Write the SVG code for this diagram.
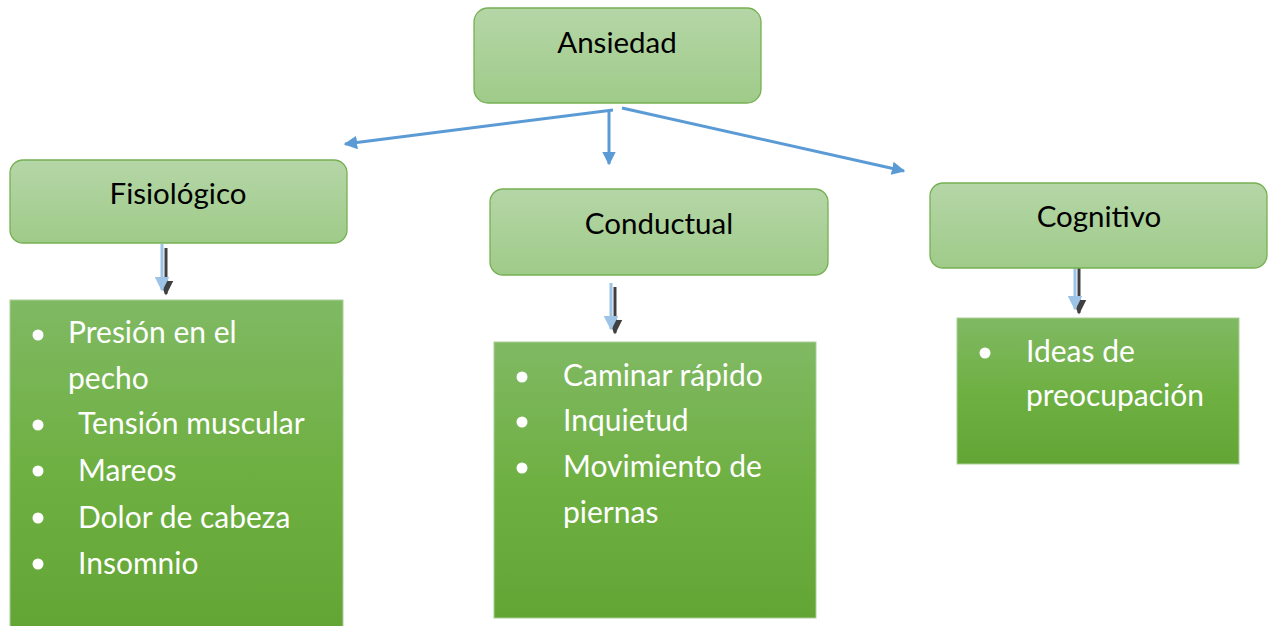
<svg xmlns="http://www.w3.org/2000/svg" width="1269" height="626" viewBox="0 0 1269 626">
<defs>
<linearGradient id="hdr" x1="0" y1="0" x2="0" y2="1">
<stop offset="0" stop-color="#b5d6a7"/>
<stop offset="1" stop-color="#9fcb89"/>
</linearGradient>
<linearGradient id="lst" x1="0" y1="0" x2="0" y2="1">
<stop offset="0" stop-color="#80b963"/>
<stop offset="0.5" stop-color="#6fb043"/>
<stop offset="1" stop-color="#63a535"/>
</linearGradient>
<marker id="ah" viewBox="0 0 10 10" refX="9" refY="5" markerWidth="4.5" markerHeight="4.5" orient="auto" markerUnits="strokeWidth">
<path d="M0,0 L10,5 L0,10 z" fill="#5b9bd5"/>
</marker>
<marker id="ahl" viewBox="0 0 10 10" refX="9" refY="5" markerWidth="5" markerHeight="5" orient="auto" markerUnits="strokeWidth">
<path d="M0,0 L10,5 L0,10 z" fill="#9dc3e6"/>
</marker>
<marker id="ahd" viewBox="0 0 10 10" refX="9" refY="5" markerWidth="5" markerHeight="5" orient="auto" markerUnits="strokeWidth">
<path d="M0,0 L10,5 L0,10 z" fill="#404040"/>
</marker>
</defs>
<style>
.hdr{fill:url(#hdr);stroke:#76b053;stroke-width:1.3}
.lst{fill:url(#lst);stroke:#a9cf95;stroke-width:1}
.ht{font-family:Lato,"Open Sans",sans-serif;font-size:29.5px;fill:#000;text-anchor:middle}
.lt{font-family:Lato,"Open Sans",sans-serif;font-size:30px;fill:#fff}
.bul{fill:#fff}
.con{stroke:#5b9bd5;stroke-width:3;fill:none}
.dl{stroke:#9dc3e6;stroke-width:3;fill:none}
.dd{stroke:#404040;stroke-width:3;fill:none}
</style>
<rect width="1269" height="626" fill="#fff"/>
<g id="connectors">
<line class="con" x1="613" y1="110" x2="345" y2="144" marker-end="url(#ah)"/>
<line class="con" x1="609" y1="110" x2="609" y2="164" marker-end="url(#ah)"/>
<line class="con" x1="622" y1="108" x2="904" y2="171" marker-end="url(#ah)"/>
<line class="dd" x1="166" y1="248" x2="166" y2="294" marker-end="url(#ahd)"/>
<line class="dl" x1="162" y1="244" x2="162" y2="290" marker-end="url(#ahl)"/>
<line class="dd" x1="615" y1="287" x2="615" y2="333" marker-end="url(#ahd)"/>
<line class="dl" x1="611" y1="283" x2="611" y2="329" marker-end="url(#ahl)"/>
<line class="dd" x1="1079" y1="268" x2="1079" y2="313" marker-end="url(#ahd)"/>
<line class="dl" x1="1075" y1="264" x2="1075" y2="309" marker-end="url(#ahl)"/>
</g>
<g id="ansiedad">
<rect class="hdr" x="474" y="8" width="287" height="95" rx="14"/>
<text class="ht" x="617" y="53">Ansiedad</text>
</g>
<g id="fisiologico">
<rect class="hdr" x="10" y="160" width="337" height="83" rx="13"/>
<text class="ht" x="178" y="204">Fisiológico</text>
</g>
<g id="conductual">
<rect class="hdr" x="490" y="189" width="338" height="86" rx="13"/>
<text class="ht" x="659" y="234">Conductual</text>
</g>
<g id="cognitivo">
<rect class="hdr" x="930" y="183" width="337" height="85" rx="13"/>
<text class="ht" x="1099" y="227">Cognitivo</text>
</g>
<g id="fisiologico-list">
<rect class="lst" x="10" y="300" width="333" height="330"/>
<circle class="bul" cx="38" cy="335" r="5.5"/>
<text class="lt" x="68" y="343">Presión en el</text>
<text class="lt" x="68" y="389">pecho</text>
<circle class="bul" cx="38" cy="425" r="5.5"/>
<text class="lt" x="78" y="434">Tensión muscular</text>
<circle class="bul" cx="38" cy="471" r="5.5"/>
<text class="lt" x="78" y="481">Mareos</text>
<circle class="bul" cx="38" cy="518" r="5.5"/>
<text class="lt" x="78" y="528">Dolor de cabeza</text>
<circle class="bul" cx="38" cy="564" r="5.5"/>
<text class="lt" x="78" y="574">Insomnio</text>
</g>
<g id="conductual-list">
<rect class="lst" x="494" y="342" width="322" height="276"/>
<circle class="bul" cx="522" cy="377" r="5.5"/>
<text class="lt" x="563" y="386">Caminar rápido</text>
<circle class="bul" cx="522" cy="422" r="5.5"/>
<text class="lt" x="563" y="431">Inquietud</text>
<circle class="bul" cx="522" cy="468" r="5.5"/>
<text class="lt" x="563" y="477">Movimiento de</text>
<text class="lt" x="563" y="523">piernas</text>
</g>
<g id="cognitivo-list">
<rect class="lst" x="957" y="318" width="282" height="146"/>
<circle class="bul" cx="985" cy="353" r="5.5"/>
<text class="lt" x="1026" y="362">Ideas de</text>
<text class="lt" x="1026" y="406">preocupación</text>
</g>
</svg>
